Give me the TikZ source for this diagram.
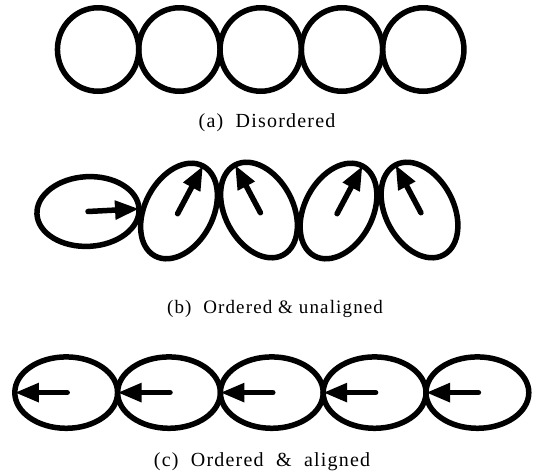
\documentclass[tikz,border=0pt]{standalone}
\usepackage{fontspec}
\setmainfont{Liberation Serif}[LetterSpace=6]
\usetikzlibrary{shapes.geometric,arrows.meta,calc}
\begin{document}
\begin{tikzpicture}[x=1pt,y=-1pt,
  ring/.style={draw, ellipse, line width=5.5pt, inner sep=0pt, outer sep=0pt},
  spin/.style={line width=5.5pt, line cap=round, -{Triangle[length=24pt 0 0, width=18pt 0 0]}},
  caption/.style={font=\fontsize{20}{24}\selectfont, anchor=base, inner sep=0pt}]
\useasboundingbox (0,0) rectangle (536,474);
% (a) disordered
\foreach \i/\x in {1/98.1,2/179.4,3/260.7,4/342,5/423.3}
  \node[ring, minimum width=81.3pt, minimum height=83.5pt] (a\i) at (\x,49.5) {};
\node[caption] (capa) at (267,127) {(a)\ \ Disordered};
% (b) ordered & unaligned
\node[ring, minimum width=102.2pt, minimum height=69.7pt, rotate=3] (b1) at (88,211.5) {};
\foreach \i/\x/\y/\r in {2/179/211/62,3/259/210/118,4/338.5/211/62,5/419.5/210/118}
  \node[ring, minimum width=102pt, minimum height=68pt, rotate=\r] (b\i) at (\x,\y) {};
\draw[spin] (b1.center) -- (b1.east);
\foreach \i in {2,...,5}
  \draw[spin] ($(b\i.center)!-0.06!(b\i.east)$) -- (b\i.east);
\node[caption, font=\fontsize{19}{23}\selectfont] (capb) at (275,313) {(b)\ \ Ordered \& unaligned};
% (c) ordered & aligned
\foreach \i/\x in {1/66.2,2/169,3/271.8,4/374.6,5/477.4}
  \node[ring, minimum width=102.8pt, minimum height=71.4pt] (c\i) at (\x,392.6) {};
\foreach \i in {1,...,5}
  \draw[spin] ($(c\i.center)+(1,0)$) -- (c\i.west);
\node[caption] (capc) at (262,466) {(c)\ \ Ordered\ \ \&\ \ aligned};
\end{tikzpicture}
\end{document}
